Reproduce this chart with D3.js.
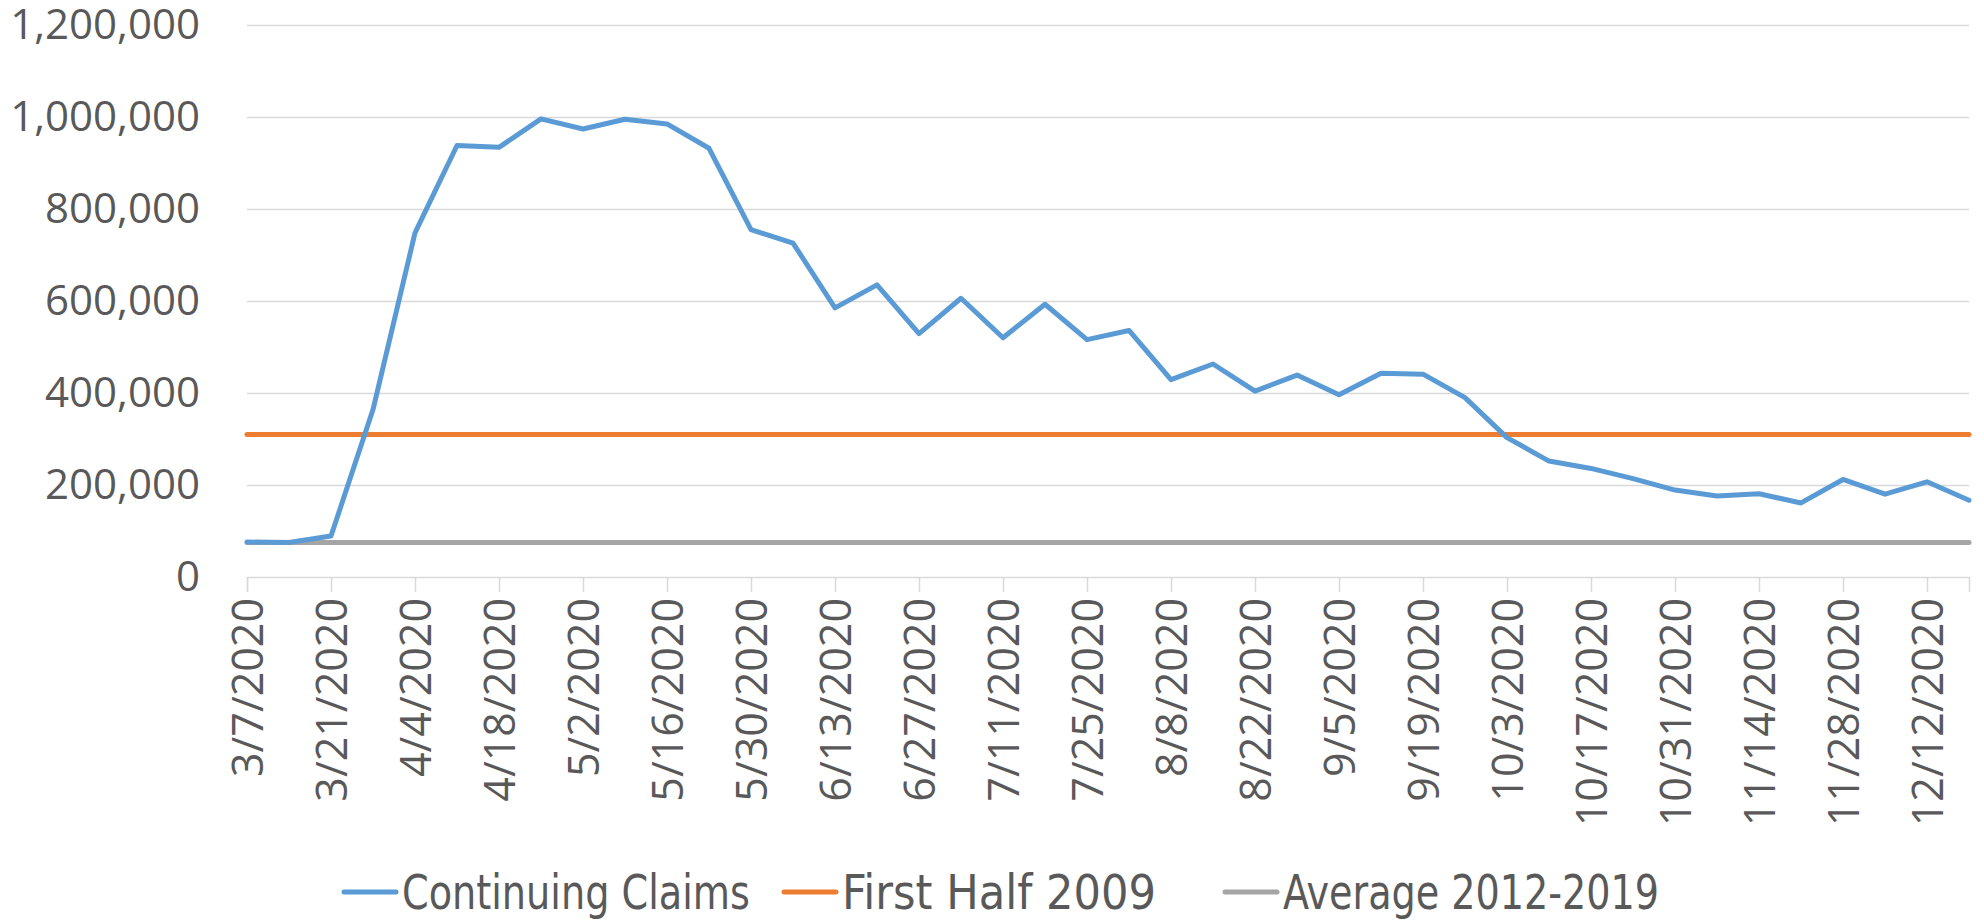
<!DOCTYPE html>
<html><head><meta charset="utf-8">
<script src="https://cdn.jsdelivr.net/npm/d3@7/dist/d3.min.js"></script>
<style>body{margin:0;background:#fff} svg{display:block}</style>
</head><body><svg id="chart" width="1984" height="922"></svg>
<script>
const dates = ["3/7/2020","3/14/2020","3/21/2020","3/28/2020","4/4/2020","4/11/2020","4/18/2020","4/25/2020",
  "5/2/2020","5/9/2020","5/16/2020","5/23/2020","5/30/2020","6/6/2020","6/13/2020","6/20/2020","6/27/2020",
  "7/4/2020","7/11/2020","7/18/2020","7/25/2020","8/1/2020","8/8/2020","8/15/2020","8/22/2020","8/29/2020",
  "9/5/2020","9/12/2020","9/19/2020","9/26/2020","10/3/2020","10/10/2020","10/17/2020","10/24/2020",
  "10/31/2020","11/7/2020","11/14/2020","11/21/2020","11/28/2020","12/5/2020","12/12/2020","12/19/2020"];
const continuingClaims = [76000,75000,89000,364000,748000,938000,934000,996000,974000,995000,
  985000,932000,755000,726000,585000,635000,529000,606000,520000,593000,
  516000,536000,429000,463000,404000,439000,396000,443000,441000,390000,
  303000,252000,236000,214000,189000,176000,181000,161000,212000,180000,
  207000,167000];
const firstHalf2009 = 310000;
const average2012to2019 = 75000;
const yTicks = [0,200000,400000,600000,800000,1000000,1200000];
const xTickLabels = dates.filter((d,i)=>i%2===0);
const seriesNames = ["Continuing Claims","First Half 2009","Average 2012-2019"];
const seriesColors = ["#5B9BD5","#ED7D31","#A5A5A5"];

const svg = d3.select("#chart");
const mLeft = 247, mRight = 1969, mTop = 25, mBottom = 577;
const x = d3.scalePoint().domain(dates).range([mLeft, mRight]);
const y = d3.scaleLinear().domain([0,1200000]).range([mBottom, mTop]);
const textColor = "#595959";
const axisFont = "'Open Sans', 'DejaVu Sans', sans-serif";

// gridlines
const grid = svg.append("g")
  .attr("transform", `translate(${mLeft},0)`)
  .call(d3.axisLeft(y).tickValues(yTicks.slice(1)).tickSize(-(mRight-mLeft)).tickFormat(""));
grid.select(".domain").remove();
grid.selectAll("line").attr("stroke","#D9D9D9").attr("stroke-width",1.5);

// y labels
const yAxis = svg.append("g")
  .attr("transform", `translate(200,0)`)
  .call(d3.axisLeft(y).tickValues(yTicks).tickSize(0).tickPadding(0).tickFormat(d3.format(",")));
yAxis.select(".domain").remove();
yAxis.selectAll("text").attr("font-family",axisFont).attr("font-size",42).attr("fill",textColor);

// x axis
const xAxis = svg.append("g")
  .attr("transform", `translate(0,${mBottom})`)
  .call(d3.axisBottom(x).tickValues(xTickLabels).tickSize(15).tickPadding(0));
xAxis.select(".domain").attr("stroke","#D9D9D9").attr("stroke-width",1.5);
xAxis.selectAll(".tick line").attr("stroke","#D9D9D9").attr("stroke-width",1.5);
xAxis.selectAll("text")
  .attr("font-family",axisFont).attr("font-size",43).attr("fill",textColor)
  .attr("text-anchor","end")
  .attr("transform","rotate(-90)")
  .attr("x",-21).attr("y",0).attr("dy","0.36em");

// reference lines
const refLine = d3.line().x(d=>x(d[0])).y(d=>y(d[1]));
svg.append("path")
  .attr("d", refLine([[dates[0],average2012to2019],[dates[dates.length-1],average2012to2019]]))
  .attr("fill","none").attr("stroke",seriesColors[2]).attr("stroke-width",5).attr("stroke-linecap","round");
svg.append("path")
  .attr("d", refLine([[dates[0],firstHalf2009],[dates[dates.length-1],firstHalf2009]]))
  .attr("fill","none").attr("stroke",seriesColors[1]).attr("stroke-width",5).attr("stroke-linecap","round");

// continuing claims
const line = d3.line().x((d,i)=>x(dates[i])).y(d=>y(d));
svg.append("path")
  .attr("d", line(continuingClaims))
  .attr("fill","none").attr("stroke",seriesColors[0]).attr("stroke-width",5)
  .attr("stroke-linejoin","round").attr("stroke-linecap","round");

// legend
const legendPos = [344, 784, 1225];
const legendTextWidth = [348, 314, 376];
const legend = svg.append("g");
seriesNames.forEach((name,i)=>{
  const g = legend.append("g").attr("transform",`translate(${legendPos[i]},892)`);
  g.append("line").attr("x1",0).attr("x2",52).attr("y1",0).attr("y2",0)
    .attr("stroke",seriesColors[i]).attr("stroke-width",5).attr("stroke-linecap","round");
  g.append("text").attr("x",58).attr("y",0).attr("dy","0.36em")
    .attr("font-family","'DejaVu Sans Condensed','Liberation Sans Narrow',sans-serif")
    .attr("font-size",48).attr("fill",textColor)
    .attr("textLength",legendTextWidth[i]).attr("lengthAdjust","spacingAndGlyphs")
    .text(name);
});
</script>
</body></html>
